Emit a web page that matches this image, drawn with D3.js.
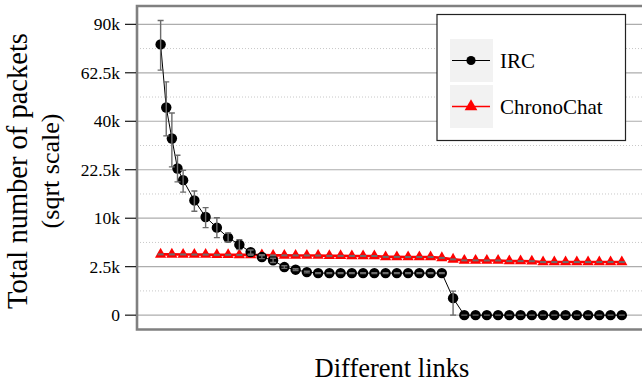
<!DOCTYPE html>
<html>
<head>
<meta charset="utf-8">
<script src="https://cdn.jsdelivr.net/npm/d3@7"></script>
<style>
	body { margin: 0; background: #fff; }
	svg { display: block; }
	svg text { font-family: "Liberation Serif", "Times New Roman", Times, serif; }
</style>
</head>
<body>
<div id="chart"></div>
<script>
// link positions along the x axis
var ircLinks = [0, 0.5, 1, 1.5, 2, 3, 4, 5, 6, 7, 8, 9, 10, 11, 12, 13, 14, 15, 16, 17, 18, 19, 20, 21,
	22, 23, 24, 25, 26, 27, 28, 29, 30, 31, 32, 33, 34, 35, 36, 37, 38, 39, 40, 41];
var ircValues = [78000, 45900, 33200, 22900, 19400, 14000, 10250, 8150, 6400, 5290, 4230, 3590, 3190, 2460,
	2200, 1970, 1880, 1880, 1880, 1880, 1880, 1880, 1880, 1880, 1880, 1880, 1880, 1880, 308,
	0, 0, 0, 0, 0, 0, 0, 0, 0, 0, 0, 0, 0, 0, 0];
var ircLow = [63900, 34200, 23400, 18900, 16100, 11500, 8150, 6400, 5690, 4570, 3950, 3400, 2950, 2330,
	2120, 1900, 1850, 1850, 1850, 1850, 1850, 1850, 1850, 1850, 1850, 1850, 1850, 1850, 0,
	0, 0, 0, 0, 0, 0, 0, 0, 0, 0, 0, 0, 0, 0, 0];
var ircHigh = [92400, 57900, 43500, 27200, 22300, 16400, 12300, 10100, 7170, 6070, 4520, 3790, 3450, 2600,
	2290, 2050, 1910, 1910, 1910, 1910, 1910, 1910, 1910, 1910, 1910, 1910, 1910, 1910, 615,
	0, 0, 0, 0, 0, 0, 0, 0, 0, 0, 0, 0, 0, 0, 0];

var chronoLinks = [0, 1, 2, 3, 4, 5, 6, 7, 8, 9, 10, 11, 12, 13, 14, 15, 16, 17, 18, 19, 20,
	21, 22, 23, 24, 25, 26, 27, 28, 29, 30, 31, 32, 33, 34, 35, 36, 37, 38, 39, 40, 41];
var chronoValues = [3930, 3930, 3920, 3910, 3900, 3870, 3870, 3860, 3860, 3850, 3800, 3800, 3790, 3790,
	3780, 3740, 3740, 3730, 3730, 3720, 3610, 3610, 3600, 3600, 3590, 3490, 3310, 3190, 3190, 3180,
	3180, 3110, 3110, 3100, 3000, 3000, 3000, 3000, 3000, 3000, 3000, 3000];

var yTicks = [0, 2500, 10000, 22500, 40000, 62500, 90000];
var yTickLabels = ["0", "2.5k", "10k", "22.5k", "40k", "62.5k", "90k"];
var yMinor = [625, 5625, 15625, 30625, 50625, 75625];

var seriesNames = ["IRC", "ChronoChat"];
var seriesColors = ["#000000", "#ff0000"];

var serif = "'Liberation Serif', 'Times New Roman', Times, serif";

function drawChart() {
	var width = 642,
		height = 386,
		left = 137,
		right = 646,
		top = 6,
		bottom = 329.5,
		i;

	var svg = d3.select("#chart").append("svg")
		.attr("width", width)
		.attr("height", height)
		.attr("font-family", serif);

	var x = d3.scaleLinear().domain([-2.1, 43.15]).range([left, right]);
	// sqrt scale: linear on the square root, allows the padding below zero
	var ys = d3.scaleLinear().domain([-14.8, 318.9]).range([bottom, top]);
	var y = function (v) { return ys(Math.sqrt(v)); };

	var grid = svg.append("g");
	grid.selectAll("line.minor")
		.data(yMinor)
		.join("line")
		.attr("class", "minor")
		.attr("x1", left).attr("x2", width)
		.attr("y1", y).attr("y2", y)
		.attr("stroke", "#c8c8c8")
		.attr("stroke-width", 1)
		.attr("stroke-dasharray", "1,2");
	grid.selectAll("line.major")
		.data(yTicks)
		.join("line")
		.attr("class", "major")
		.attr("x1", left).attr("x2", width)
		.attr("y1", y).attr("y2", y)
		.attr("stroke", "#adadad")
		.attr("stroke-width", 1.2);

	// panel borders (top, left, bottom)
	svg.append("path")
		.attr("d", "M" + width + "," + top + "H" + left + "V" + bottom + "H" + width)
		.attr("fill", "none")
		.attr("stroke", "#808080")
		.attr("stroke-width", 2.6);

	// y axis ticks and labels
	var yaxis = svg.append("g");
	yaxis.selectAll("line")
		.data(yTicks)
		.join("line")
		.attr("x1", 125).attr("x2", left - 1)
		.attr("y1", y).attr("y2", y)
		.attr("stroke", "#000")
		.attr("stroke-width", 1.1);
	yaxis.selectAll("text")
		.data(yTicks)
		.join("text")
		.attr("x", 120)
		.attr("y", y)
		.attr("dy", "0.35em")
		.attr("text-anchor", "end")
		.attr("font-family", serif)
		.style("font-size", "17.5px")
		.text(function (d, k) { return yTickLabels[k]; });

	svg.append("text")
		.attr("transform", "translate(27,171) rotate(-90)")
		.attr("text-anchor", "middle")
		.attr("font-family", serif)
		.style("font-size", "28.5px")
		.text("Total number of packets");
	svg.append("text")
		.attr("transform", "translate(59,171) rotate(-90)")
		.attr("text-anchor", "middle")
		.attr("font-family", serif)
		.style("font-size", "26px")
		.text("(sqrt scale)");
	svg.append("text")
		.attr("x", 392)
		.attr("y", 377)
		.attr("text-anchor", "middle")
		.attr("font-family", serif)
		.style("font-size", "26.5px")
		.text("Different links");

	var triangle = d3.symbol().type(d3.symbolTriangle).size(55);
	var triangleKey = d3.symbol().type(d3.symbolTriangle).size(70);

	var chrono = chronoLinks.map(function (l, k) { return { x: l, v: chronoValues[k] }; });
	var irc = ircLinks.map(function (l, k) { return { x: l, v: ircValues[k], lo: ircLow[k], hi: ircHigh[k] }; });

	var line = d3.line()
		.x(function (d) { return x(d.x); })
		.y(function (d) { return y(d.v); });

	// ChronoChat
	svg.append("path")
		.datum(chrono)
		.attr("d", line)
		.attr("fill", "none")
		.attr("stroke", seriesColors[1])
		.attr("stroke-width", 2.6);
	svg.append("g")
		.selectAll("path")
		.data(chrono)
		.join("path")
		.attr("d", triangle)
		.attr("transform", function (d) { return "translate(" + x(d.x) + "," + y(d.v) + ")"; })
		.attr("fill", seriesColors[1]);

	// IRC
	svg.append("path")
		.datum(irc)
		.attr("d", line)
		.attr("fill", "none")
		.attr("stroke", seriesColors[0])
		.attr("stroke-width", 1);
	svg.append("g")
		.selectAll("circle")
		.data(irc)
		.join("circle")
		.attr("cx", function (d) { return x(d.x); })
		.attr("cy", function (d) { return y(d.v); })
		.attr("r", 5.2)
		.attr("fill", seriesColors[0]);

	// error bars on top
	var eb = svg.append("g")
		.attr("stroke", "#6b6b6b")
		.attr("stroke-width", 1.4)
		.attr("fill", "none");
	eb.selectAll("path.irc")
		.data(irc)
		.join("path")
		.attr("class", "irc")
		.attr("d", function (d) {
			var cx = x(d.x), y0 = y(d.lo), y1 = y(d.hi);
			return "M" + (cx - 3) + "," + y1 + "H" + (cx + 3) + "M" + cx + "," + y1 + "V" + y0 +
				"M" + (cx - 3) + "," + y0 + "H" + (cx + 3);
		});
	eb.selectAll("path.chrono")
		.data(chrono)
		.join("path")
		.attr("class", "chrono")
		.attr("stroke-width", 2)
		.attr("d", function (d) {
			var cx = x(d.x), cy = y(d.v);
			return "M" + (cx - 3) + "," + cy + "H" + (cx + 3);
		});

	// legend
	var lg = svg.append("g");
	lg.append("rect")
		.attr("x", 437).attr("y", 14.5)
		.attr("width", 188.5).attr("height", 126)
		.attr("fill", "#fff")
		.attr("stroke", "#222")
		.attr("stroke-width", 1.2);

	for (i = 0; i < seriesNames.length; i++)
	{
		var ky = 39 + i * 46;
		lg.append("rect")
			.attr("x", 450).attr("y", ky)
			.attr("width", 43).attr("height", 43)
			.attr("fill", "#f2f2f2");
		lg.append("line")
			.attr("x1", 452).attr("x2", 490)
			.attr("y1", ky + 21.5).attr("y2", ky + 21.5)
			.attr("stroke", seriesColors[i])
			.attr("stroke-width", i == 0 ? 1 : 1.5);
		if (i == 0)
		{
			lg.append("circle")
				.attr("cx", 471).attr("cy", ky + 21.5)
				.attr("r", 4.6)
				.attr("fill", seriesColors[i]);
		}
		else
		{
			lg.append("path")
				.attr("d", triangleKey)
				.attr("transform", "translate(471," + (ky + 21.5) + ")")
				.attr("fill", seriesColors[i]);
		}
		lg.append("text")
			.attr("x", 500)
			.attr("y", ky + 29)
			.attr("font-family", serif)
			.style("font-size", "21px")
			.text(seriesNames[i]);
	}
}

drawChart();
</script>
</body>
</html>
